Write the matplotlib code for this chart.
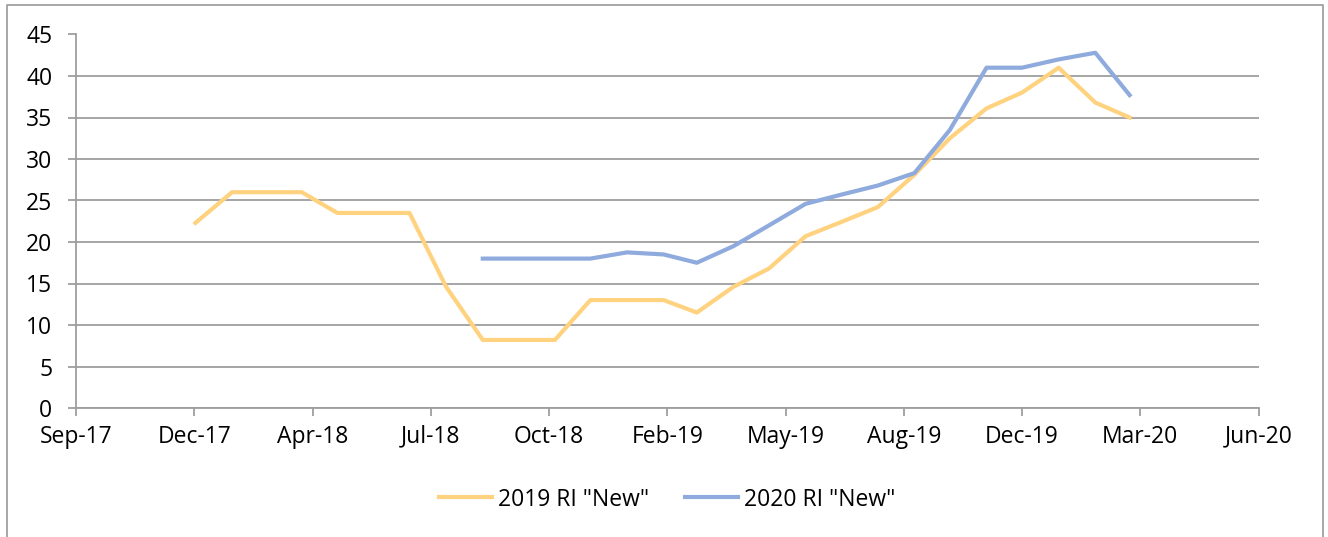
import numpy as np
import pandas as pd
import matplotlib
matplotlib.use('agg')
import matplotlib.pyplot as plt
import matplotlib.dates as mdates
from matplotlib.lines import Line2D

plt.rcParams['font.family'] = ['Open Sans', 'DejaVu Sans']

# monthly data, Jan-2018 .. Mar-2020
months = pd.date_range('2018-01-01', '2020-03-01', freq='MS')
ri_2019 = [22.3, 26.0, 26.0, 26.0, 23.5, 23.5, 23.5, 14.6, 8.2, 8.2, 8.2, 13.0,
           13.0, 13.0, 11.5, 14.6, 16.8, 20.7, 22.4, 24.2, 28.1, 32.5, 36.1, 38.0,
           41.0, 36.8, 35.0]
ri_2020 = [np.nan] * 8 + [18.0, 18.0, 18.0, 18.0,
           18.75, 18.5, 17.5, 19.5, 22.0, 24.6, 25.7, 26.8, 28.3, 33.5, 41.0, 41.0,
           42.0, 42.8, 37.7]
labels = ['2019 RI "New"', '2020 RI "New"']
colors = ['#FFD280', '#8FAADC']

W, H = 1328, 537
fig = plt.figure(figsize=(W / 100, H / 100), dpi=100)
ax = fig.add_axes([76 / W, 1 - 408 / H, (1258.5 - 76) / W, (408 - 34.5) / H])

x = mdates.date2num(months)
ax.plot(x, ri_2019, color=colors[0], lw=3, label=labels[0], solid_joinstyle='round')
ax.plot(x, ri_2020, color=colors[1], lw=3, label=labels[1], solid_joinstyle='round')

# axis like excel: min 22-Sep-2017, major unit 100 days
x0 = mdates.date2num(pd.Timestamp('2017-09-22'))
ax.set_xlim(x0, x0 + 1000)
ax.set_xticks(x0 + np.arange(0, 1001, 100))
ax.xaxis.set_major_formatter(mdates.DateFormatter('%b-%y'))
ax.set_ylim(0, 45)
ax.set_yticks(range(0, 46, 5))

ax.grid(axis='y', color='#9E9E9E', lw=1.3)
ax.set_axisbelow(True)
for s in ['top', 'right']:
    ax.spines[s].set_visible(False)
for s in ['left', 'bottom']:
    ax.spines[s].set_color('#9E9E9E')
    ax.spines[s].set_linewidth(1.3)
ax.tick_params(axis='both', colors='#9E9E9E', width=1.3, length=6,
               labelcolor='black', labelsize=16.5)
ax.tick_params(axis='y', pad=11)
ax.tick_params(axis='x', pad=6)

ax.legend(loc='center', bbox_to_anchor=(0.5, -0.245), ncol=2, frameon=False,
          fontsize=16.5, handlelength=2.3, columnspacing=1.6, handletextpad=0.25)

# chart border
fig.add_artist(Line2D([7 / W, 7 / W, 1323 / W, 1323 / W], [0, 1 - 5 / H, 1 - 5 / H, 0],
                      color='#A0A0A0', lw=1.3, transform=fig.transFigure))

fig.savefig('out.png', dpi=100)
